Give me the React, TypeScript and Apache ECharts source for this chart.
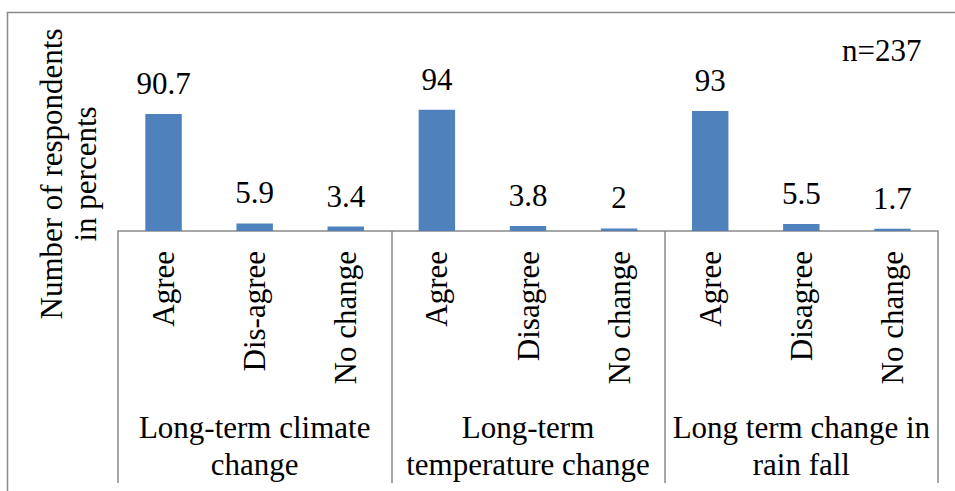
import React, { useEffect, useRef } from "react";
import * as echarts from "echarts";

const categories = [
  "Agree", "Dis-agree", "No change",
  "Agree", "Disagree", "No change",
  "Agree", "Disagree", "No change",
];
const values = [90.7, 5.9, 3.4, 94, 3.8, 2, 93, 5.5, 1.7];
const groups = [
  "Long-term climate\nchange",
  "Long-term\ntemperature change",
  "Long term change in\nrain fall",
];
const yTitle = "Number of respondents\nin percents";
const note = "n=237";

const FONT = "Liberation Serif";
const GRAY = "#898989";
const FS = 31;

export default function App() {
  const ref = useRef<HTMLDivElement>(null);
  useEffect(() => {
    if (!ref.current) return;
    const chart = echarts.init(ref.current, undefined, { renderer: "svg" });
    chart.setOption({
      animation: false,
      backgroundColor: "#ffffff",
      textStyle: { fontFamily: FONT },
      grid: { left: 118, right: 17, top: 102, bottom: 260 },
      xAxis: [
        {
          type: "category",
          data: categories,
          position: "bottom",
          axisLine: { show: true, lineStyle: { color: GRAY, width: 1.5 } },
          axisTick: { show: false },
          axisLabel: {
            rotate: 90,
            margin: 20,
            interval: 0,
            fontSize: FS,
            fontFamily: FONT,
            color: "#000",
          },
        },
        {
          type: "category",
          data: groups,
          position: "bottom",
          axisLine: { show: false },
          axisTick: {
            show: true,
            interval: 0,
            length: 252,
            lineStyle: { color: GRAY, width: 1.5 },
          },
          axisLabel: {
            interval: 0,
            margin: 178,
            fontSize: FS,
            lineHeight: 37,
            fontFamily: FONT,
            color: "#000",
            align: "center",
          },
        },
      ],
      yAxis: { type: "value", min: 0, max: 100, show: false },
      series: [
        {
          type: "bar",
          xAxisIndex: 0,
          data: values,
          barWidth: "40%",
          itemStyle: { color: "#4F81BD" },
          label: {
            show: true,
            position: "top",
            distance: 15,
            fontSize: FS,
            fontFamily: FONT,
            color: "#000",
          },
        },
      ],
      graphic: [
        {
          type: "rect",
          shape: { x: 7.5, y: 12.5, width: 960, height: 500 },
          style: { fill: "none", stroke: GRAY, lineWidth: 1.5 },
          silent: true,
        },
        {
          type: "text",
          x: 68,
          y: 174,
          rotation: Math.PI / 2,
          style: {
            text: yTitle,
            fontSize: FS,
            lineHeight: 34,
            fontFamily: FONT,
            fill: "#000",
            align: "center",
            verticalAlign: "middle",
          },
        },
        {
          type: "text",
          x: 842,
          y: 50,
          style: {
            text: note,
            fontSize: FS,
            fontFamily: FONT,
            fill: "#000",
            align: "left",
            verticalAlign: "middle",
          },
        },
      ],
    });
    return () => chart.dispose();
  }, []);
  return (
    <div
      ref={ref}
      style={{ position: "fixed", left: 0, top: 0, width: 955, height: 491 }}
    />
  );
}
